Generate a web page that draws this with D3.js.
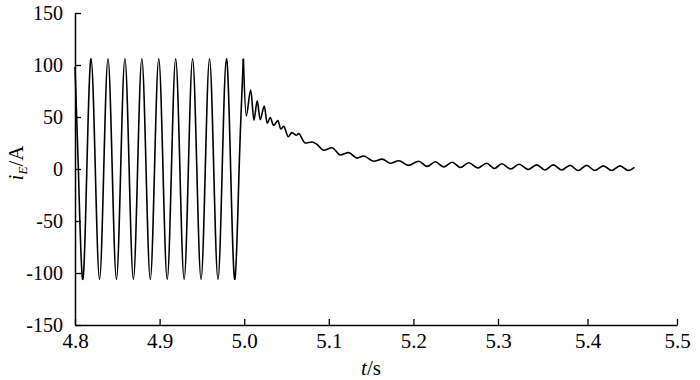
<!DOCTYPE html>
<html lang="en">
<head>
    <meta charset="UTF-8">
    <title>iE current</title>
    <script src="https://d3js.org/d3.v7.min.js"></script>
    <style>
        body { margin: 0; background: #fff; }
        svg text { font-family: "Liberation Serif", "Times New Roman", serif; fill: #000; }
    </style>
</head>
<body>
    <svg width="700" height="380"></svg>

    <script>
        // Tick values
        const xTicks = [4.8, 4.9, 5.0, 5.1, 5.2, 5.3, 5.4, 5.5];
        const yTicks = [-150, -100, -50, 0, 50, 100, 150];

        // Steady 50 Hz current before 5.0 s (peaks, zero crossings, troughs)
        const sineT = [4.800, 4.804, 4.809, 4.814, 4.819, 4.824, 4.829, 4.834, 4.839, 4.844,
                       4.849, 4.854, 4.859, 4.864, 4.869, 4.874, 4.879, 4.884, 4.889, 4.894,
                       4.899, 4.904, 4.909, 4.914, 4.919, 4.924, 4.929, 4.934, 4.939, 4.944,
                       4.949, 4.954, 4.959, 4.964, 4.969, 4.974, 4.979, 4.984, 4.989, 4.994, 4.999];
        const sineI = [98, 0, -106, 0, 106, 0, -106, 0, 106, 0,
                       -106, 0, 106, 0, -106, 0, 106, 0, -106, 0,
                       106, 0, -106, 0, 106, 0, -106, 0, 106, 0,
                       -106, 0, 106, 0, -106, 0, 106, 0, -106, 0, 106];

        // Decaying current after 5.0 s
        const decayT = [4.999, 5.0024, 5.0077, 5.0115, 5.0154, 5.0189, 5.0237, 5.0272, 5.0308, 5.0347,
                        5.0399, 5.0432, 5.0467, 5.0521, 5.0564, 5.0615, 5.0643, 5.0722, 5.0801, 5.0860,
                        5.0938, 5.1038, 5.1136, 5.1234, 5.1334, 5.1412, 5.1530, 5.1630, 5.1728, 5.1826,
                        5.1941, 5.2063, 5.2162, 5.2260, 5.2358, 5.2458, 5.2556, 5.2654, 5.2761, 5.2864,
                        5.2959, 5.3041, 5.3142, 5.3235, 5.3338, 5.3432, 5.3525, 5.3618, 5.3711, 5.3805,
                        5.3897, 5.3991, 5.4083, 5.4177, 5.4270, 5.4363, 5.4455, 5.4525];
        const decayI = [106, 51, 76, 47, 65.5, 47.5, 60.5, 44, 49.5, 42,
                        46.5, 38.5, 41, 31, 35, 32.4, 34, 25, 26, 23.7,
                        18, 20.5, 13.5, 15.7, 10.5, 12.5, 7.5, 9.5, 5.5, 8,
                        3.5, 7.5, 2.5, 7, 2, 6.5, 1.5, 6, 1, 5.5,
                        0.5, 5, 0, 4.5, -0.5, 4, -1, 4, -1, 3.5,
                        -1.5, 3.5, -1.5, 3, -1.5, 3, -1.5, 1.5];

        const svg = d3.select("svg");

        // Scales (axis in the source is slightly uneven near the right end)
        const x = d3.scaleLinear().domain([4.8, 5.3, 5.5]).range([75, 498, 677]);
        const y = d3.scaleLinear().domain([-150, 150]).range([325, 13]);

        // Axes, ticks pointing inward
        const xAxis = svg.append("g")
            .attr("transform", `translate(0,${y(-150)})`)
            .call(d3.axisBottom(x).tickValues(xTicks).tickFormat(d => d.toFixed(1))
                .tickSizeInner(-6).tickSizeOuter(0).tickPadding(8));

        const yAxis = svg.append("g")
            .attr("transform", `translate(${x(4.8)},0)`)
            .call(d3.axisLeft(y).tickValues(yTicks).tickFormat(d => String(d))
                .tickSizeInner(-6).tickSizeOuter(0).tickPadding(12));

        [xAxis, yAxis].forEach(g => {
            g.select(".domain").attr("stroke", "#000").attr("stroke-width", 1.5);
            g.selectAll(".tick line").attr("stroke", "#000").attr("stroke-width", 1.3);
            g.selectAll(".tick text")
                .style("font-family", '"Liberation Serif", "Times New Roman", serif');
        });
        xAxis.selectAll(".tick text").style("font-size", "21px");
        yAxis.selectAll(".tick text").style("font-size", "20px");

        // Current traces
        const sineLine = d3.line()
            .x((d, i) => x(sineT[i]))
            .y(d => y(d))
            .curve(d3.curveNatural);

        const decayLine = d3.line()
            .x((d, i) => x(decayT[i]))
            .y(d => y(d))
            .curve(d3.curveMonotoneX);

        svg.append("path")
            .datum(sineI)
            .attr("fill", "none")
            .attr("stroke", "#000")
            .attr("stroke-width", 1.6)
            .attr("d", sineLine);

        svg.append("path")
            .datum(decayI)
            .attr("fill", "none")
            .attr("stroke", "#000")
            .attr("stroke-width", 1.6)
            .attr("d", decayLine);

        // Axis titles
        const xt = svg.append("text")
            .attr("x", 371)
            .attr("y", 375)
            .attr("text-anchor", "middle")
            .style("font-size", "21px");
        xt.append("tspan").style("font-style", "italic").text("t");
        xt.append("tspan").text("/s");

        const yt = svg.append("text")
            .attr("transform", "translate(23,163) rotate(-90)")
            .attr("text-anchor", "middle")
            .style("font-size", "21px");
        yt.append("tspan").style("font-style", "italic").text("i");
        yt.append("tspan").style("font-style", "italic").style("font-size", "13px")
            .attr("dy", 4).text("E");
        yt.append("tspan").attr("dy", -4).text("/A");
    </script>
</body>
</html>
